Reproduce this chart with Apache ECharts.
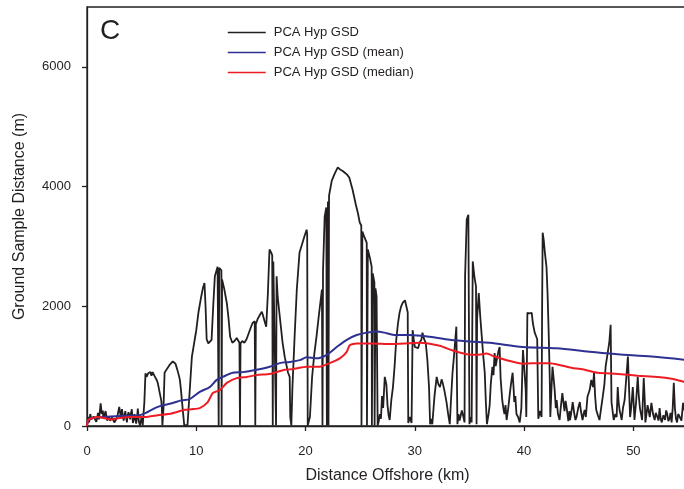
<!DOCTYPE html>
<html>
<head>
<meta charset="utf-8">
<script src="https://cdn.jsdelivr.net/npm/echarts@6/dist/echarts.min.js"></script>
<style>html,body{margin:0;padding:0;background:#fff}#c{width:684px;height:489px}</style>
</head>
<body>
<div id="c"></div>
<script>
const xTicks = [0, 10, 20, 30, 40, 50];
const yTicks = [0, 2000, 4000, 6000];
const seriesNames = ['PCA Hyp GSD', 'PCA Hyp GSD (mean)', 'PCA Hyp GSD (median)'];
const panelLabel = 'C';

// [distance offshore km, GSD m]
const gsd = [
[0,0],[0.1,150],[0.2,60],[0.3,200],[0.4,110],[0.5,90],[0.6,160],[0.7,180],[0.85,70],[0.95,150],[1.0,220],[1.1,110],[1.25,380],[1.35,200],[1.45,260],[1.5,120],[1.6,180],[1.7,250],[1.85,90],[2.0,160],[2.1,90],[2.2,60],[2.3,140],[2.4,120],[2.5,60],[2.6,40],[2.7,120],[2.8,180],[2.95,320],[3.05,200],[3.1,150],[3.2,280],[3.35,90],[3.45,180],[3.5,250],[3.65,60],[3.7,150],[3.8,230],[3.95,110],[4.0,190],[4.1,280],[4.2,50],[4.3,120],[4.35,200],[4.5,40],[4.6,180],[4.65,290],[4.75,70],[4.85,10],[5.0,150],[5.1,10],
[5.25,400],[5.35,880],[5.45,820],[5.5,800],[5.6,880],[5.7,860],[5.8,900],[5.9,840],[6.0,900],[6.1,870],[6.2,830],[6.3,800],[6.4,760],[6.5,700],[6.66,550],[6.8,420],[6.85,300],[6.9,10],[7.0,300],[7.1,890],[7.2,870],[7.3,950],[7.45,980],[7.6,1030],[7.75,1000],[7.85,1080],[8.0,1100],[8.1,1040],[8.25,950],[8.4,850],[8.5,770],[8.6,600],[8.7,400],[8.8,200],[8.9,10],[9.2,20],
[9.6,1160],[10.0,1600],[10.2,1900],[10.45,2160],[10.6,2300],[10.75,2390],[10.85,2000],[10.95,1450],[11.1,1380],[11.25,1400],[11.4,1440],[11.55,2000],[11.7,2500],[11.95,2660],[12.0,2650],[12.05,10],[12.1,2640],[12.3,2600],[12.32,10],[12.36,2450],[12.55,2300],[12.8,2050],[12.95,1800],[13.1,1490],[13.3,1390],[13.5,1420],[13.7,1470],[13.95,1390],[14.0,10],[14.05,1380],[14.2,1420],[14.4,1390],[14.6,1450],[14.8,1550],[15.0,1650],[15.15,1720],[15.35,1750],[15.4,10],[15.45,1700],[15.6,1780],[15.8,1850],[16.0,1910],[16.1,1850],[16.25,1750],[16.4,1660],[16.55,2200],[16.7,2950],[16.85,2900],[16.95,2850],[17.0,10],[17.05,2750],[17.2,2730],[17.3,10],[17.35,2500],[17.45,2160],[17.6,1900],[17.9,1390],[18.1,1150],[18.4,890],[18.55,820],[18.6,150],[18.7,10],[18.8,650],[19.0,1500],[19.2,2280],[19.45,2900],[19.7,3050],[19.9,3170],[20.1,3280],[20.15,3200],[20.2,10],[20.4,150],[20.6,820],[20.8,1200],[21.0,1490],[21.25,1900],[21.5,2280],[21.55,10],[21.6,2600],[21.75,3500],[21.9,3650],[21.95,10],[22.05,3750],[22.1,10],[22.15,3850],[22.4,4100],[22.7,4230],[22.95,4320],[23.2,4280],[23.4,4260],[23.6,4230],[23.8,4200],[24.0,4150],[24.3,3950],[24.6,3700],[24.8,3550],[24.96,3400],[25.1,3350],[25.12,10],[25.2,3250],[25.4,3150],[25.6,3060],[25.62,10],[25.7,2950],[25.9,2800],[26.05,2660],[26.07,10],[26.15,2550],[26.3,2400],[26.32,10],[26.4,2300],[26.5,2160],[26.6,10],[26.7,80],[26.8,200],[26.9,120],[27.0,500],[27.1,300],[27.25,820],[27.4,690],[27.5,350],[27.6,180],[27.7,100],[27.85,435],[28.0,650],[28.15,1000],[28.3,1440],[28.45,1700],[28.6,1890],[28.75,2000],[28.9,2060],[29.1,2100],[29.25,2110],[29.35,1900],[29.4,50],[29.55,150],[29.7,50],[29.8,1600],[29.9,1450],[30.0,1320],[30.15,1350],[30.3,1300],[30.45,1400],[30.6,1440],[30.7,1560],[30.85,1450],[31.0,1390],[31.15,1100],[31.3,650],[31.4,30],[31.5,120],[31.6,30],[31.8,500],[32.0,820],[32.15,700],[32.3,650],[32.45,780],[32.55,720],[32.7,600],[32.9,400],[33.05,200],[33.2,30],[33.3,400],[33.45,890],[33.6,1200],[33.8,1660],[33.9,30],[34.0,200],[34.1,90],[34.2,120],[34.3,260],[34.45,150],[34.55,60],[34.6,2500],[34.75,3450],[34.9,3530],[35.0,30],[35.1,150],[35.2,60],[35.3,2750],[35.45,2500],[35.6,2330],[35.65,30],[35.7,1800],[35.85,2220],[36.0,1800],[36.1,1560],[36.25,1200],[36.4,890],[36.5,400],[36.6,30],[36.75,200],[36.85,350],[36.95,700],[37.1,990],[37.2,850],[37.3,1220],[37.4,1000],[37.5,1100],[37.65,1250],[37.76,1320],[37.85,800],[38.0,435],[38.1,300],[38.2,200],[38.3,350],[38.4,100],[38.55,300],[38.7,550],[38.8,700],[38.95,890],[39.05,600],[39.1,400],[39.2,500],[39.3,200],[39.45,150],[39.6,60],[39.75,300],[39.85,1000],[39.9,1270],[40.05,1300],[40.15,600],[40.2,150],[40.25,900],[40.3,1890],[40.5,1880],[40.7,1890],[40.8,1720],[40.97,1560],[41.1,1500],[41.2,1450],[41.3,120],[41.45,250],[41.6,150],[41.65,2000],[41.7,3230],[41.8,3100],[41.9,2900],[42.05,2660],[42.15,2200],[42.25,1560],[42.35,800],[42.4,150],[42.5,600],[42.6,990],[42.7,800],[42.8,600],[42.9,300],[42.98,435],[43.1,200],[43.25,100],[43.35,300],[43.5,550],[43.6,400],[43.7,250],[43.8,420],[43.9,300],[44.05,80],[44.15,250],[44.2,100],[44.3,200],[44.45,400],[44.6,200],[44.7,100],[44.8,150],[44.95,300],[45.1,400],[45.2,250],[45.35,100],[45.45,200],[45.54,270],[45.65,150],[45.8,490],[46.0,600],[46.15,770],[46.3,650],[46.4,890],[46.5,500],[46.6,270],[46.75,180],[46.9,100],[47.05,300],[47.2,490],[47.35,700],[47.46,990],[47.55,1100],[47.65,1220],[47.8,1400],[47.92,1690],[48.0,400],[48.1,250],[48.2,100],[48.35,200],[48.47,150],[48.57,650],[48.65,400],[48.75,250],[48.85,180],[48.93,100],[49.05,300],[49.2,435],[49.35,800],[49.5,1160],[49.6,1130],[49.7,150],[49.8,300],[49.95,650],[50.05,300],[50.1,100],[50.25,400],[50.4,820],[50.5,500],[50.6,300],[50.7,200],[50.8,100],[50.95,800],[51.05,400],[51.1,60],[51.2,200],[51.3,350],[51.4,250],[51.5,150],[51.65,385],[51.8,200],[51.95,100],[52.05,220],[52.2,150],[52.3,90],[52.4,300],[52.5,120],[52.6,60],[52.75,180],[52.9,100],[53.0,260],[53.1,200],[53.2,80],[53.3,120],[53.4,220],[53.5,60],[53.6,300],[53.7,720],[53.8,300],[53.9,120],[54.0,60],[54.1,200],[54.25,150],[54.4,90],[54.55,385],[54.7,250],[55,200]
];

const gsdMean = [
[0,30],[0.3,130],[1.63,150],[3.46,170],[4.65,175],[5.29,210],[6.48,320],[7.76,380],[8.67,430],[9.4,450],[10.32,570],[11.23,650],[11.87,770],[12.42,820],[13.34,890],[14.25,900],[15.53,940],[16.72,990],[17.64,1050],[18.55,1070],[19.47,1100],[20.11,1150],[21.02,1130],[21.94,1190],[22.85,1320],[23.77,1440],[24.68,1520],[25.6,1560],[26.51,1580],[27.43,1550],[28.16,1520],[29.53,1520],[31.36,1490],[33.19,1440],[35.02,1410],[36.85,1390],[39.87,1320],[42.98,1300],[46.0,1240],[48.57,1200],[51.68,1160],[55,1100]
];

const gsdMedian = [
[0,0],[0.1,100],[0.45,130],[0.99,150],[2.27,110],[2.82,130],[4.1,150],[5.29,150],[6.48,180],[7.76,210],[8.95,270],[9.59,280],[10.32,300],[11.05,400],[11.51,550],[12.15,600],[12.79,720],[13.7,800],[14.62,820],[15.53,850],[16.72,870],[17.36,900],[18.09,940],[18.82,950],[20.11,990],[21.3,990],[22.21,1050],[23.13,1130],[23.77,1240],[24.04,1350],[24.68,1380],[26.15,1380],[27.7,1370],[30.44,1390],[32.27,1340],[33.47,1260],[34.75,1200],[35.66,1190],[36.58,1210],[37.31,1160],[38.41,1100],[39.87,1040],[40.78,1050],[42.34,1050],[43.25,1020],[44.44,970],[45.54,940],[46.73,890],[48.57,870],[50.4,840],[52.23,820],[53.51,790],[54.6,740],[55,730]
];

const FONT = '"Liberation Sans", Arial, sans-serif';
const INK = '#231f20';
const chart = echarts.init(document.getElementById('c'), null, {renderer: 'canvas'});
chart.setOption({
  animation: false,
  backgroundColor: '#fff',
  textStyle: {fontFamily: FONT, color: INK},
  grid: {left: 87, top: 7, width: 601, height: 419, show: true, borderColor: INK, borderWidth: 1.3, backgroundColor: 'transparent', outerBoundsMode: 'none', containLabel: false},
  graphic: [{type: 'text', left: 100, top: 17, style: {text: panelLabel, font: '28px ' + FONT, fill: INK}}],
  legend: {
    orient: 'vertical', left: 227, top: 26, padding: 0, itemWidth: 38, itemHeight: 14, itemGap: 7,
    itemStyle: {opacity: 0},
    lineStyle: {width: 1.5},
    textStyle: {fontFamily: FONT, fontSize: 13, color: INK, padding: [0, 0, 0, 3]},
    data: seriesNames
  },
  xAxis: {
    type: 'value', min: 0, max: 55, interval: 10,
    name: 'Distance Offshore (km)', nameLocation: 'middle', nameGap: 42,
    nameTextStyle: {fontFamily: FONT, fontSize: 16, color: INK},
    axisLine: {show: true, onZero: false, lineStyle: {color: INK, width: 1.3}},
    axisTick: {show: true, length: 5, lineStyle: {color: INK, width: 1.3}, customValues: xTicks},
    axisLabel: {fontFamily: FONT, fontSize: 13, color: INK, margin: 19, customValues: xTicks, formatter: v => String(v)},
    splitLine: {show: false}
  },
  yAxis: {
    type: 'value', min: 0, max: 7000, interval: 2000,
    name: 'Ground Sample Distance (m)', nameLocation: 'middle', nameGap: 59, nameRotate: 90,
    nameTextStyle: {fontFamily: FONT, fontSize: 16, color: INK},
    axisLine: {show: true, lineStyle: {color: INK, width: 1.3}},
    axisTick: {show: true, length: 5, lineStyle: {color: INK, width: 1.3}, customValues: yTicks},
    axisLabel: {fontFamily: FONT, fontSize: 13, color: INK, margin: 16, customValues: yTicks, formatter: v => String(v)},
    splitLine: {show: false}
  },
  series: [
    {name: seriesNames[0], type: 'line', data: gsd, showSymbol: false, symbol: 'none', lineStyle: {color: INK, width: 1.8}, itemStyle: {color: INK}, z: 2},
    {name: seriesNames[1], type: 'line', data: gsdMean, showSymbol: false, symbol: 'none', smooth: 0.3, lineStyle: {color: '#2e3192', width: 2}, itemStyle: {color: '#2e3192'}, z: 3},
    {name: seriesNames[2], type: 'line', data: gsdMedian, showSymbol: false, symbol: 'none', smooth: 0.2, lineStyle: {color: '#ed1c24', width: 2}, itemStyle: {color: '#ed1c24'}, z: 4}
  ]
});
</script>
</body>
</html>
